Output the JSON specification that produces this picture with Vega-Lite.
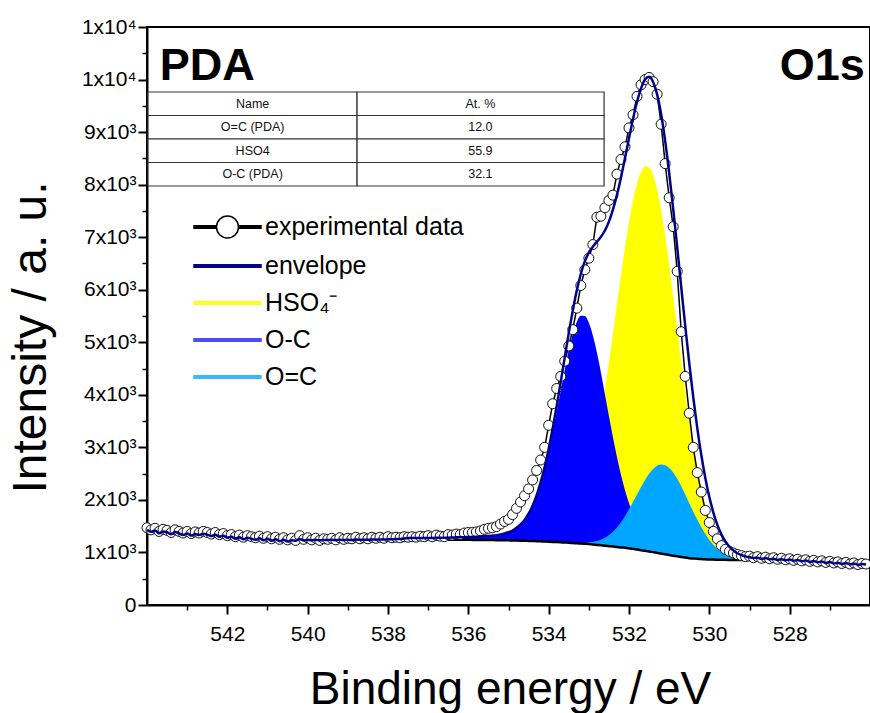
{
"$schema": "https://vega.github.io/schema/vega-lite/v6.json",
"width": 723, "height": 578,
"autosize": {"type": "none"},
"padding": {"left": 147, "top": 27, "right": 0, "bottom": 108},
"background": "white",
"config": {
 "font": "Liberation Sans",
 "view": {"stroke": "black", "strokeWidth": 2},
 "axis": {"grid": false, "domainColor": "black", "domainWidth": 2, "tickColor": "black", "tickWidth": 2, "labelColor": "black", "titleColor": "black", "titleFontWeight": "normal"},
 "legend": {"padding": 0, "symbolSize": 1444, "symbolStrokeWidth": 1.5, "symbolOpacity": 1, "labelFontSize": 25, "labelFont": "Liberation Sans", "labelColor": "black", "labelOffset": 32, "rowPadding": 4, "labelLimit": 500}
},
"datasets": {
 "exp": [
{"E":544.0,"I":1470},{"E":543.9,"I":1430},{"E":543.8,"I":1460},{"E":543.7,"I":1400},{"E":543.6,"I":1440},{"E":543.5,"I":1420},{"E":543.4,"I":1380},{"E":543.3,"I":1430},{"E":543.2,"I":1400},{"E":543.1,"I":1370},
{"E":543.0,"I":1400},{"E":542.9,"I":1360},{"E":542.8,"I":1390},{"E":542.7,"I":1370},{"E":542.6,"I":1400},{"E":542.5,"I":1380},{"E":542.4,"I":1350},{"E":542.3,"I":1380},{"E":542.2,"I":1340},{"E":542.1,"I":1360},
{"E":542.0,"I":1320},{"E":541.9,"I":1340},{"E":541.8,"I":1300},{"E":541.7,"I":1330},{"E":541.6,"I":1290},{"E":541.5,"I":1320},{"E":541.4,"I":1300},{"E":541.3,"I":1280},{"E":541.2,"I":1310},{"E":541.1,"I":1270},
{"E":541.0,"I":1300},{"E":540.9,"I":1260},{"E":540.8,"I":1290},{"E":540.7,"I":1250},{"E":540.6,"I":1280},{"E":540.5,"I":1240},{"E":540.4,"I":1270},{"E":540.3,"I":1230},{"E":540.2,"I":1320},{"E":540.1,"I":1250},
{"E":540.0,"I":1280},{"E":539.9,"I":1240},{"E":539.8,"I":1270},{"E":539.7,"I":1230},{"E":539.6,"I":1260},{"E":539.5,"I":1250},{"E":539.4,"I":1270},{"E":539.3,"I":1240},{"E":539.2,"I":1280},{"E":539.1,"I":1250},
{"E":539.0,"I":1270},{"E":538.9,"I":1260},{"E":538.8,"I":1290},{"E":538.7,"I":1260},{"E":538.6,"I":1280},{"E":538.5,"I":1260},{"E":538.4,"I":1290},{"E":538.3,"I":1270},{"E":538.2,"I":1290},{"E":538.1,"I":1270},
{"E":538.0,"I":1300},{"E":537.9,"I":1280},{"E":537.8,"I":1290},{"E":537.7,"I":1280},{"E":537.6,"I":1300},{"E":537.5,"I":1290},{"E":537.4,"I":1300},{"E":537.3,"I":1290},{"E":537.2,"I":1310},{"E":537.1,"I":1300},
{"E":537.0,"I":1320},{"E":536.9,"I":1300},{"E":536.8,"I":1330},{"E":536.7,"I":1310},{"E":536.6,"I":1300},{"E":536.5,"I":1340},{"E":536.4,"I":1330},{"E":536.3,"I":1350},{"E":536.2,"I":1340},{"E":536.1,"I":1370},
{"E":536.0,"I":1380},{"E":535.9,"I":1380},{"E":535.8,"I":1390},{"E":535.7,"I":1410},{"E":535.6,"I":1440},{"E":535.5,"I":1460},{"E":535.4,"I":1470},{"E":535.3,"I":1490},{"E":535.2,"I":1540},{"E":535.1,"I":1590},
{"E":535.0,"I":1630},{"E":534.9,"I":1720},{"E":534.8,"I":1840},{"E":534.7,"I":1960},{"E":534.6,"I":2080},{"E":534.5,"I":2210},{"E":534.4,"I":2380},{"E":534.3,"I":2560},{"E":534.2,"I":2760},{"E":534.1,"I":3000},
{"E":534.0,"I":3420},{"E":533.9,"I":3830},{"E":533.8,"I":4120},{"E":533.7,"I":4350},{"E":533.6,"I":4640},{"E":533.5,"I":4930},{"E":533.4,"I":5240},{"E":533.3,"I":5650},{"E":533.2,"I":6080},{"E":533.1,"I":6380},
{"E":533.0,"I":6600},{"E":532.9,"I":6860},{"E":532.8,"I":7380},{"E":532.7,"I":7400},{"E":532.6,"I":7560},{"E":532.5,"I":7700},{"E":532.4,"I":7800},{"E":532.3,"I":8200},{"E":532.2,"I":8480},{"E":532.1,"I":8720},
{"E":532.0,"I":9080},{"E":531.9,"I":9330},{"E":531.8,"I":9680},{"E":531.7,"I":9900},{"E":531.6,"I":10000},{"E":531.5,"I":10040},{"E":531.4,"I":9960},{"E":531.3,"I":9720},{"E":531.2,"I":9150},{"E":531.1,"I":8400},
{"E":531.0,"I":7750},{"E":530.9,"I":7200},{"E":530.8,"I":6350},{"E":530.7,"I":5200},{"E":530.6,"I":4350},{"E":530.5,"I":3650},{"E":530.4,"I":3000},{"E":530.3,"I":2520},{"E":530.2,"I":2150},{"E":530.1,"I":1800},
{"E":530.0,"I":1570},{"E":529.9,"I":1400},{"E":529.8,"I":1260},{"E":529.7,"I":1130},{"E":529.6,"I":1060},{"E":529.5,"I":1020},{"E":529.4,"I":990},{"E":529.3,"I":960},{"E":529.2,"I":940},{"E":529.1,"I":920},
{"E":529.0,"I":930},{"E":528.9,"I":900},{"E":528.8,"I":920},{"E":528.7,"I":890},{"E":528.6,"I":910},{"E":528.5,"I":880},{"E":528.4,"I":900},{"E":528.3,"I":870},{"E":528.2,"I":890},{"E":528.1,"I":860},
{"E":528.0,"I":880},{"E":527.9,"I":850},{"E":527.8,"I":870},{"E":527.7,"I":840},{"E":527.6,"I":860},{"E":527.5,"I":830},{"E":527.4,"I":850},{"E":527.3,"I":820},{"E":527.2,"I":840},{"E":527.1,"I":810},
{"E":527.0,"I":830},{"E":526.9,"I":800},{"E":526.8,"I":820},{"E":526.7,"I":790},{"E":526.6,"I":810},{"E":526.5,"I":780},{"E":526.4,"I":800},{"E":526.3,"I":770},{"E":526.2,"I":790},{"E":526.1,"I":780}
 ],
 "env": [
{"E":544.0,"envelope":1430},{"E":543.9,"envelope":1395},{"E":543.8,"envelope":1420},{"E":543.7,"envelope":1365},{"E":543.6,"envelope":1400},{"E":543.5,"envelope":1385},{"E":543.4,"envelope":1345},{"E":543.3,"envelope":1390},{"E":543.2,"envelope":1362},{"E":543.1,"envelope":1332},
{"E":543.0,"envelope":1360},{"E":542.9,"envelope":1322},{"E":542.8,"envelope":1352},{"E":542.7,"envelope":1332},{"E":542.6,"envelope":1358},{"E":542.5,"envelope":1340},{"E":542.4,"envelope":1312},{"E":542.3,"envelope":1338},{"E":542.2,"envelope":1300},{"E":542.1,"envelope":1320},
{"E":542.0,"envelope":1282},{"E":541.9,"envelope":1300},{"E":541.8,"envelope":1262},{"E":541.7,"envelope":1290},{"E":541.6,"envelope":1252},{"E":541.5,"envelope":1280},{"E":541.4,"envelope":1262},{"E":541.3,"envelope":1242},{"E":541.2,"envelope":1270},{"E":541.1,"envelope":1232},
{"E":541.0,"envelope":1260},{"E":540.9,"envelope":1224},{"E":540.8,"envelope":1250},{"E":540.7,"envelope":1215},{"E":540.6,"envelope":1240},{"E":540.5,"envelope":1208},{"E":540.4,"envelope":1232},{"E":540.3,"envelope":1222},{"E":540.2,"envelope":1258},{"E":540.1,"envelope":1228},
{"E":540.0,"envelope":1240},{"E":539.9,"envelope":1232},{"E":539.8,"envelope":1240},{"E":539.7,"envelope":1230},{"E":539.6,"envelope":1238},{"E":539.5,"envelope":1235},{"E":539.4,"envelope":1240},{"E":539.3,"envelope":1234},{"E":539.2,"envelope":1242},{"E":539.1,"envelope":1236},
{"E":539.0,"envelope":1240},{"E":538.9,"envelope":1238},{"E":538.8,"envelope":1245},{"E":538.7,"envelope":1240},{"E":538.6,"envelope":1244},{"E":538.5,"envelope":1240},{"E":538.4,"envelope":1246},{"E":538.3,"envelope":1243},{"E":538.2,"envelope":1248},{"E":538.1,"envelope":1245},
{"E":538.0,"envelope":1252},{"E":537.9,"envelope":1250},{"E":537.8,"envelope":1255},{"E":537.7,"envelope":1258},{"E":537.6,"envelope":1265},{"E":537.5,"envelope":1276},{"E":537.4,"envelope":1276},{"E":537.3,"envelope":1276},{"E":537.2,"envelope":1276},{"E":537.1,"envelope":1276},
{"E":537.0,"envelope":1276},{"E":536.9,"envelope":1277},{"E":536.8,"envelope":1278},{"E":536.7,"envelope":1279},{"E":536.6,"envelope":1280},{"E":536.5,"envelope":1281},{"E":536.4,"envelope":1284},{"E":536.3,"envelope":1287},{"E":536.2,"envelope":1289},{"E":536.1,"envelope":1290},
{"E":536.0,"envelope":1293},{"E":535.9,"envelope":1296},{"E":535.8,"envelope":1299},{"E":535.7,"envelope":1303},{"E":535.6,"envelope":1309},{"E":535.5,"envelope":1314},{"E":535.4,"envelope":1322},{"E":535.3,"envelope":1330},{"E":535.2,"envelope":1344},{"E":535.1,"envelope":1362},
{"E":535.0,"envelope":1386},{"E":534.9,"envelope":1418},{"E":534.8,"envelope":1468},{"E":534.7,"envelope":1534},{"E":534.6,"envelope":1618},{"E":534.5,"envelope":1737},{"E":534.4,"envelope":1889},{"E":534.3,"envelope":2086},{"E":534.2,"envelope":2332},{"E":534.1,"envelope":2624},
{"E":534.0,"envelope":2970},{"E":533.9,"envelope":3360},{"E":533.8,"envelope":3786},{"E":533.7,"envelope":4242},{"E":533.6,"envelope":4713},{"E":533.5,"envelope":5174},{"E":533.4,"envelope":5602},{"E":533.3,"envelope":5986},{"E":533.2,"envelope":6300},{"E":533.1,"envelope":6539},
{"E":533.0,"envelope":6706},{"E":532.9,"envelope":6818},{"E":532.8,"envelope":6913},{"E":532.7,"envelope":7006},{"E":532.6,"envelope":7127},{"E":532.5,"envelope":7296},{"E":532.4,"envelope":7524},{"E":532.3,"envelope":7805},{"E":532.2,"envelope":8137},{"E":532.1,"envelope":8506},
{"E":532.0,"envelope":8885},{"E":531.9,"envelope":9250},{"E":531.8,"envelope":9577},{"E":531.7,"envelope":9833},{"E":531.6,"envelope":10002},{"E":531.5,"envelope":10051},{"E":531.4,"envelope":9954},{"E":531.3,"envelope":9718},{"E":531.2,"envelope":9338},{"E":531.1,"envelope":8832},
{"E":531.0,"envelope":8222},{"E":530.9,"envelope":7538},{"E":530.8,"envelope":6805},{"E":530.7,"envelope":6054},{"E":530.6,"envelope":5311},{"E":530.5,"envelope":4603},{"E":530.4,"envelope":3952},{"E":530.3,"envelope":3367},{"E":530.2,"envelope":2854},{"E":530.1,"envelope":2418},
{"E":530.0,"envelope":2054},{"E":529.9,"envelope":1759},{"E":529.8,"envelope":1525},{"E":529.7,"envelope":1345},{"E":529.6,"envelope":1210},{"E":529.5,"envelope":1109},{"E":529.4,"envelope":1036},{"E":529.3,"envelope":985},{"E":529.2,"envelope":949},{"E":529.1,"envelope":925},
{"E":529.0,"envelope":908},{"E":528.9,"envelope":895},{"E":528.8,"envelope":900},{"E":528.7,"envelope":880},{"E":528.6,"envelope":893},{"E":528.5,"envelope":868},{"E":528.4,"envelope":882},{"E":528.3,"envelope":858},{"E":528.2,"envelope":872},{"E":528.1,"envelope":850},
{"E":528.0,"envelope":866},{"E":527.9,"envelope":842},{"E":527.8,"envelope":856},{"E":527.7,"envelope":832},{"E":527.6,"envelope":846},{"E":527.5,"envelope":820},{"E":527.4,"envelope":836},{"E":527.3,"envelope":812},{"E":527.2,"envelope":828},{"E":527.1,"envelope":800},
{"E":527.0,"envelope":818},{"E":526.9,"envelope":790},{"E":526.8,"envelope":806},{"E":526.7,"envelope":782},{"E":526.6,"envelope":798},{"E":526.5,"envelope":772},{"E":526.4,"envelope":788},{"E":526.3,"envelope":764},{"E":526.2,"envelope":780},{"E":526.1,"envelope":770}
 ],
 "fit": [
{"E":537.5,"background":1250,"OC":1276,"HSO4":1250,"OeqC":1250},
{"E":537.4,"background":1249,"OC":1276,"HSO4":1249,"OeqC":1249},
{"E":537.3,"background":1248,"OC":1276,"HSO4":1248,"OeqC":1248},
{"E":537.2,"background":1247,"OC":1276,"HSO4":1247,"OeqC":1247},
{"E":537.1,"background":1246,"OC":1276,"HSO4":1246,"OeqC":1246},
{"E":537.0,"background":1245,"OC":1276,"HSO4":1245,"OeqC":1245},
{"E":536.9,"background":1244,"OC":1277,"HSO4":1244,"OeqC":1244},
{"E":536.8,"background":1244,"OC":1278,"HSO4":1244,"OeqC":1244},
{"E":536.7,"background":1243,"OC":1279,"HSO4":1243,"OeqC":1243},
{"E":536.6,"background":1243,"OC":1280,"HSO4":1243,"OeqC":1243},
{"E":536.5,"background":1242,"OC":1281,"HSO4":1242,"OeqC":1242},
{"E":536.4,"background":1242,"OC":1284,"HSO4":1242,"OeqC":1242},
{"E":536.3,"background":1241,"OC":1287,"HSO4":1241,"OeqC":1241},
{"E":536.2,"background":1241,"OC":1289,"HSO4":1241,"OeqC":1241},
{"E":536.1,"background":1240,"OC":1290,"HSO4":1240,"OeqC":1240},
{"E":536.0,"background":1240,"OC":1293,"HSO4":1240,"OeqC":1240},
{"E":535.9,"background":1239,"OC":1296,"HSO4":1239,"OeqC":1239},
{"E":535.8,"background":1238,"OC":1299,"HSO4":1238,"OeqC":1238},
{"E":535.7,"background":1238,"OC":1303,"HSO4":1238,"OeqC":1238},
{"E":535.6,"background":1237,"OC":1309,"HSO4":1237,"OeqC":1237},
{"E":535.5,"background":1236,"OC":1314,"HSO4":1236,"OeqC":1236},
{"E":535.4,"background":1235,"OC":1322,"HSO4":1235,"OeqC":1235},
{"E":535.3,"background":1234,"OC":1330,"HSO4":1234,"OeqC":1234},
{"E":535.2,"background":1233,"OC":1344,"HSO4":1233,"OeqC":1233},
{"E":535.1,"background":1232,"OC":1362,"HSO4":1232,"OeqC":1232},
{"E":535.0,"background":1230,"OC":1386,"HSO4":1230,"OeqC":1230},
{"E":534.9,"background":1228,"OC":1417,"HSO4":1229,"OeqC":1228},
{"E":534.8,"background":1226,"OC":1467,"HSO4":1227,"OeqC":1226},
{"E":534.7,"background":1224,"OC":1532,"HSO4":1226,"OeqC":1224},
{"E":534.6,"background":1222,"OC":1614,"HSO4":1226,"OeqC":1222},
{"E":534.5,"background":1220,"OC":1731,"HSO4":1226,"OeqC":1220},
{"E":534.4,"background":1217,"OC":1880,"HSO4":1226,"OeqC":1217},
{"E":534.3,"background":1214,"OC":2071,"HSO4":1229,"OeqC":1214},
{"E":534.2,"background":1211,"OC":2309,"HSO4":1234,"OeqC":1211},
{"E":534.1,"background":1208,"OC":2589,"HSO4":1243,"OeqC":1208},
{"E":534.0,"background":1205,"OC":2917,"HSO4":1258,"OeqC":1205},
{"E":533.9,"background":1201,"OC":3282,"HSO4":1279,"OeqC":1201},
{"E":533.8,"background":1197,"OC":3672,"HSO4":1311,"OeqC":1197},
{"E":533.7,"background":1193,"OC":4078,"HSO4":1357,"OeqC":1193},
{"E":533.6,"background":1189,"OC":4479,"HSO4":1421,"OeqC":1191},
{"E":533.5,"background":1185,"OC":4849,"HSO4":1507,"OeqC":1188},
{"E":533.4,"background":1180,"OC":5157,"HSO4":1620,"OeqC":1185},
{"E":533.3,"background":1175,"OC":5386,"HSO4":1767,"OeqC":1183},
{"E":533.2,"background":1170,"OC":5504,"HSO4":1952,"OeqC":1184},
{"E":533.1,"background":1165,"OC":5499,"HSO4":2183,"OeqC":1187},
{"E":533.0,"background":1160,"OC":5371,"HSO4":2462,"OeqC":1193},
{"E":532.9,"background":1152,"OC":5129,"HSO4":2791,"OeqC":1202},
{"E":532.8,"background":1144,"OC":4808,"HSO4":3174,"OeqC":1219},
{"E":532.7,"background":1136,"OC":4426,"HSO4":3608,"OeqC":1244},
{"E":532.6,"background":1128,"OC":4013,"HSO4":4090,"OeqC":1280},
{"E":532.5,"background":1120,"OC":3595,"HSO4":4611,"OeqC":1330},
{"E":532.4,"background":1112,"OC":3193,"HSO4":5160,"OeqC":1395},
{"E":532.3,"background":1104,"OC":2816,"HSO4":5720,"OeqC":1477},
{"E":532.2,"background":1096,"OC":2477,"HSO4":6276,"OeqC":1576},
{"E":532.1,"background":1088,"OC":2186,"HSO4":6805,"OeqC":1691},
{"E":532.0,"background":1080,"OC":1937,"HSO4":7286,"OeqC":1822},
{"E":531.9,"background":1068,"OC":1731,"HSO4":7696,"OeqC":1959},
{"E":531.8,"background":1056,"OC":1567,"HSO4":8019,"OeqC":2103},
{"E":531.7,"background":1044,"OC":1436,"HSO4":8240,"OeqC":2245},
{"E":531.6,"background":1032,"OC":1340,"HSO4":8347,"OeqC":2379},
{"E":531.5,"background":1020,"OC":1261,"HSO4":8333,"OeqC":2497},
{"E":531.4,"background":1006,"OC":1195,"HSO4":8183,"OeqC":2588},
{"E":531.3,"background":992,"OC":1148,"HSO4":7905,"OeqC":2649},
{"E":531.2,"background":978,"OC":1108,"HSO4":7513,"OeqC":2673},
{"E":531.1,"background":964,"OC":1075,"HSO4":7026,"OeqC":2659},
{"E":531.0,"background":950,"OC":1046,"HSO4":6469,"OeqC":2607},
{"E":530.9,"background":938,"OC":1025,"HSO4":5869,"OeqC":2520},
{"E":530.8,"background":926,"OC":1004,"HSO4":5250,"OeqC":2403},
{"E":530.7,"background":914,"OC":986,"HSO4":4635,"OeqC":2261},
{"E":530.6,"background":902,"OC":967,"HSO4":4045,"OeqC":2103},
{"E":530.5,"background":890,"OC":951,"HSO4":3495,"OeqC":1937},
{"E":530.4,"background":885,"OC":942,"HSO4":3004,"OeqC":1776},
{"E":530.3,"background":880,"OC":933,"HSO4":2572,"OeqC":1622},
{"E":530.2,"background":875,"OC":925,"HSO4":2201,"OeqC":1478},
{"E":530.1,"background":870,"OC":918,"HSO4":1890,"OeqC":1350},
{"E":530.0,"background":865,"OC":911,"HSO4":1635,"OeqC":1238},
{"E":529.9,"background":864,"OC":906,"HSO4":1434,"OeqC":1147},
{"E":529.8,"background":862,"OC":901,"HSO4":1276,"OeqC":1072},
{"E":529.7,"background":861,"OC":898,"HSO4":1156,"OeqC":1013},
{"E":529.6,"background":859,"OC":895,"HSO4":1066,"OeqC":967},
{"E":529.5,"background":858,"OC":892,"HSO4":1000,"OeqC":933},
{"E":529.4,"background":857,"OC":890,"HSO4":953,"OeqC":907},
{"E":529.3,"background":857,"OC":888,"HSO4":921,"OeqC":890},
{"E":529.2,"background":856,"OC":886,"HSO4":897,"OeqC":878},
{"E":529.1,"background":856,"OC":885,"HSO4":882,"OeqC":870},
{"E":529.0,"background":855,"OC":883,"HSO4":872,"OeqC":863}
 ],
 "table": [
  {"Name": "Name", "At": "At. %"},
  {"Name": "O=C (PDA)", "At": "12.0"},
  {"Name": "HSO4", "At": "55.9"},
  {"Name": "O-C (PDA)", "At": "32.1"}
 ],
 "series": [
  {"series": "experimental data"}, {"series": "envelope"}, {"series": "HSO₄⁻"}, {"series": "O-C"}, {"series": "O=C"}
 ],
 "labels": [{"left": "PDA", "right": "O1s"}]
},
"resolve": {"scale": {"x": "independent", "y": "independent"}, "axis": {"x": "independent", "y": "independent"}},
"layer": [
 {
  "data": {"name": "fit"},
  "mark": {"type": "area", "color": "#FFFF00", "opacity": 1, "interpolate": "monotone"},
  "encoding": {
   "x": {"field": "E", "type": "quantitative", "scale": {"domain": [526, 544], "reverse": true, "nice": false, "zero": false}, "axis": null},
   "y": {"field": "HSO4", "type": "quantitative", "scale": {"domain": [0, 11000], "nice": false, "zero": false}, "axis": null},
   "y2": {"field": "background"}
  }
 },
 {
  "data": {"name": "fit"},
  "mark": {"type": "area", "color": "#0000FF", "opacity": 1, "interpolate": "monotone"},
  "encoding": {
   "x": {"field": "E", "type": "quantitative", "scale": {"domain": [526, 544], "reverse": true, "nice": false, "zero": false}, "axis": null},
   "y": {"field": "OC", "type": "quantitative", "scale": {"domain": [0, 11000], "nice": false, "zero": false}, "axis": null},
   "y2": {"field": "background"}
  }
 },
 {
  "data": {"name": "fit"},
  "mark": {"type": "area", "color": "#00A6FF", "opacity": 1, "interpolate": "monotone"},
  "encoding": {
   "x": {"field": "E", "type": "quantitative", "scale": {"domain": [526, 544], "reverse": true, "nice": false, "zero": false}, "axis": null},
   "y": {"field": "OeqC", "type": "quantitative", "scale": {"domain": [0, 11000], "nice": false, "zero": false}, "axis": null},
   "y2": {"field": "background"}
  }
 },
 {
  "data": {"name": "fit"},
  "mark": {"type": "line", "color": "black", "strokeWidth": 2.5, "interpolate": "monotone"},
  "encoding": {
   "x": {"field": "E", "type": "quantitative", "scale": {"domain": [526, 544], "reverse": true, "nice": false, "zero": false},
         "axis": {"values": [527, 529, 531, 533, 535, 537, 539, 541, 543], "tickSize": 5, "tickWidth": 1.5, "labels": false, "domain": false, "title": null, "orient": "bottom"}},
   "y": {"field": "background", "type": "quantitative", "scale": {"domain": [0, 11000], "nice": false, "zero": false},
         "axis": {"values": [500, 1500, 2500, 3500, 4500, 5500, 6500, 7500, 8500, 9500, 10500], "tickSize": 5, "tickWidth": 1.5, "labels": false, "domain": false, "title": null, "orient": "left"}}
  }
 },
 {
  "data": {"name": "exp"},
  "mark": {"type": "line", "color": "black", "strokeWidth": 1.5},
  "encoding": {
   "x": {"field": "E", "type": "quantitative", "scale": {"domain": [526, 544], "reverse": true, "nice": false, "zero": false},
         "axis": {"orient": "bottom", "values": [528, 530, 532, 534, 536, 538, 540, 542], "tickSize": 9, "labelFontSize": 21, "labelPadding": 9, "title": "Binding energy / eV", "titleFontSize": 46, "titleX": 363, "titleY": 98, "titleBaseline": "alphabetic", "titleAlign": "center"}},
   "y": {"field": "I", "type": "quantitative", "scale": {"domain": [0, 11000], "nice": false, "zero": false},
         "axis": {"orient": "left", "values": [0, 1000, 2000, 3000, 4000, 5000, 6000, 7000, 8000, 9000, 10000, 11000], "tickSize": 9, "labelFontSize": 21, "labelPadding": 2, "labelBaseline": "middle",
                  "labelExpr": "datum.value == 0 ? '0' : (datum.value >= 10000 ? '1x10⁴' : format(datum.value / 1000, 'd') + 'x10³')",
                  "title": "Intensity / a. u.", "titleFontSize": 48, "titleAngle": -90, "titleX": -102, "titleY": 310, "titleAlign": "center", "titleBaseline": "alphabetic"}}
  }
 },
 {
  "data": {"name": "exp"},
  "mark": {"type": "point", "filled": true, "fill": "white", "stroke": "#111111", "strokeWidth": 1, "size": 100, "opacity": 1},
  "encoding": {
   "x": {"field": "E", "type": "quantitative", "scale": {"domain": [526, 544], "reverse": true, "nice": false, "zero": false}, "axis": null},
   "y": {"field": "I", "type": "quantitative", "scale": {"domain": [0, 11000], "nice": false, "zero": false}, "axis": null}
  }
 },
 {
  "data": {"name": "env"},
  "mark": {"type": "line", "color": "#00008B", "strokeWidth": 2.5, "interpolate": "monotone"},
  "encoding": {
   "x": {"field": "E", "type": "quantitative", "scale": {"domain": [526, 544], "reverse": true, "nice": false, "zero": false}, "axis": null},
   "y": {"field": "envelope", "type": "quantitative", "scale": {"domain": [0, 11000], "nice": false, "zero": false}, "axis": null}
  }
 },
 {
  "data": {"name": "table"},
  "mark": {"type": "rect", "fill": "white", "stroke": "#333333", "strokeWidth": 1.2},
  "encoding": {
   "x": {"datum": 543.975, "type": "quantitative", "scale": {"domain": [526, 544], "reverse": true, "nice": false, "zero": false}, "axis": null},
   "x2": {"datum": 538.77},
   "y": {"field": "Name", "type": "nominal", "scale": {"type": "band", "domain": ["Name", "O=C (PDA)", "HSO4", "O-C (PDA)"], "range": [65, 159], "paddingInner": 0, "paddingOuter": 0}, "axis": null}
  }
 },
 {
  "data": {"name": "table"},
  "mark": {"type": "rect", "fill": "white", "stroke": "#333333", "strokeWidth": 1.2},
  "encoding": {
   "x": {"datum": 538.77, "type": "quantitative", "scale": {"domain": [526, 544], "reverse": true, "nice": false, "zero": false}, "axis": null},
   "x2": {"datum": 532.62},
   "y": {"field": "Name", "type": "nominal", "scale": {"type": "band", "domain": ["Name", "O=C (PDA)", "HSO4", "O-C (PDA)"], "range": [65, 159], "paddingInner": 0, "paddingOuter": 0}, "axis": null}
  }
 },
 {
  "data": {"name": "table"},
  "mark": {"type": "text", "fontSize": 12.5, "color": "#111111", "align": "center", "baseline": "middle"},
  "encoding": {
   "x": {"datum": 541.37, "type": "quantitative", "scale": {"domain": [526, 544], "reverse": true, "nice": false, "zero": false}, "axis": null},
   "y": {"field": "Name", "type": "nominal", "scale": {"type": "band", "domain": ["Name", "O=C (PDA)", "HSO4", "O-C (PDA)"], "range": [65, 159], "paddingInner": 0, "paddingOuter": 0}, "axis": null},
   "text": {"field": "Name"}
  }
 },
 {
  "data": {"name": "table"},
  "mark": {"type": "text", "fontSize": 12.5, "color": "#111111", "align": "center", "baseline": "middle"},
  "encoding": {
   "x": {"datum": 535.7, "type": "quantitative", "scale": {"domain": [526, 544], "reverse": true, "nice": false, "zero": false}, "axis": null},
   "y": {"field": "Name", "type": "nominal", "scale": {"type": "band", "domain": ["Name", "O=C (PDA)", "HSO4", "O-C (PDA)"], "range": [65, 159], "paddingInner": 0, "paddingOuter": 0}, "axis": null},
   "text": {"field": "At"}
  }
 },
 {
  "data": {"name": "labels"},
  "mark": {"type": "text", "fontSize": 45, "fontWeight": "bold", "color": "black", "align": "left", "baseline": "alphabetic"},
  "encoding": {
   "x": {"datum": 543.68, "type": "quantitative", "scale": {"domain": [526, 544], "reverse": true, "nice": false, "zero": false}, "axis": null},
   "y": {"datum": 10000, "type": "quantitative", "scale": {"domain": [0, 11000], "nice": false, "zero": false}, "axis": null},
   "text": {"field": "left"}
  }
 },
 {
  "data": {"name": "labels"},
  "mark": {"type": "text", "fontSize": 45, "fontWeight": "bold", "color": "black", "align": "right", "baseline": "alphabetic"},
  "encoding": {
   "x": {"datum": 526.13, "type": "quantitative", "scale": {"domain": [526, 544], "reverse": true, "nice": false, "zero": false}, "axis": null},
   "y": {"datum": 10000, "type": "quantitative", "scale": {"domain": [0, 11000], "nice": false, "zero": false}, "axis": null},
   "text": {"field": "right"}
  }
 },
 {
  "data": {"name": "series"},
  "mark": {"type": "point", "opacity": 0, "filled": false},
  "encoding": {
   "fill": {"field": "series", "type": "nominal", "title": null,
            "scale": {"domain": ["experimental data", "envelope", "HSO₄⁻", "O-C", "O=C"], "range": ["#FFFFFF", "#00008B", "#FFFF1A", "#4D4DFF", "#3DB8FF"]},
            "legend": {"orient": "none", "legendX": 46, "legendY": 180, "rowPadding": 4}},
   "stroke": {"field": "series", "type": "nominal", "title": null,
            "scale": {"domain": ["experimental data", "envelope", "HSO₄⁻", "O-C", "O=C"], "range": ["#000000", "#00008B", "#FFFF1A", "#4D4DFF", "#3DB8FF"]},
            "legend": {"orient": "none", "legendX": 46, "legendY": 180, "rowPadding": 4}},
   "shape": {"field": "series", "type": "nominal", "title": null,
            "scale": {"domain": ["experimental data", "envelope", "HSO₄⁻", "O-C", "O=C"],
                      "range": ["M-1,-0.07H0.184V-0.003H-1Z M-1,0.003H0.184V0.07H-1Z M1.342,-0.07H2.526V-0.003H1.342Z M1.342,0.003H2.526V0.07H1.342Z M0.184,0A0.579,0.579,0,1,1,1.342,0A0.579,0.579,0,1,1,0.184,0Z",
                                "M-1,-0.07H2.526V0.07H-1Z", "M-1,-0.07H2.526V0.07H-1Z", "M-1,-0.07H2.526V0.07H-1Z", "M-1,-0.07H2.526V0.07H-1Z"]},
            "legend": {"orient": "none", "legendX": 46, "legendY": 180, "rowPadding": 4}}
  }
 }
]
}
